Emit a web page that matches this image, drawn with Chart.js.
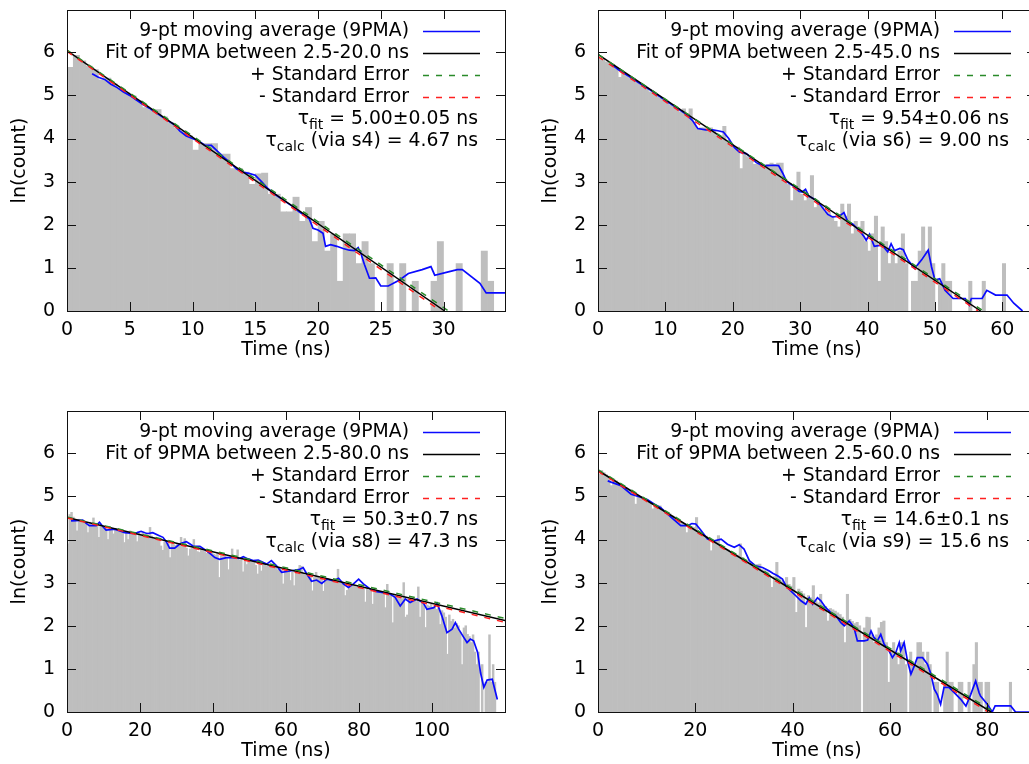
<!DOCTYPE html>
<html>
<head>
<meta charset="utf-8">
<script src="https://cdn.jsdelivr.net/npm/chart.js@4.4.1/dist/chart.umd.min.js"></script>
<style>
  html, body { margin: 0; padding: 0; background: #fff; overflow: hidden; }
  body { width: 1029px; height: 764px; position: relative; }
  canvas { position: absolute; }
  #c1 { left: 0; top: 0; }
  #c2 { left: 531px; top: 0; }
  #c3 { left: 0; top: 401px; }
  #c4 { left: 531px; top: 401px; }
</style>
</head>
<body>
<canvas id="c1" width="515" height="370"></canvas>
<canvas id="c2" width="515" height="370"></canvas>
<canvas id="c3" width="515" height="370"></canvas>
<canvas id="c4" width="515" height="370"></canvas>
<script>
/* ==================== 数据 ==================== */
// 直方图：每个 0.5 ns 的 bin 的 ln(count)，null = 空 bin
const BIN_WIDTH = 0.5;

const p1Counts = [
  5.65, 5.93, 5.80, 5.68, 5.60, 5.36, 5.40, 5.27, 5.17, 5.06,
  4.99, 4.88, 4.72, 4.66, 4.67, 4.50, 4.37, 4.25, 4.17, 4.06,
  3.73, 3.88, 3.88, 3.88, 3.64, 3.64, 3.30, 3.30, 3.22, 2.94,
  3.18, 3.20, 2.71, 2.71, 2.30, 2.30, 2.64, 2.08, 2.40, 1.61,
  2.08, 1.39, 1.79, 0.69, 1.79, 1.79, 1.10, 1.61, 1.10, null,
  null, 1.10, null, 1.10, null, 0.69, null, null, 0.69, 1.61,
  null, null, 1.10, null, null, null, 1.39, 0.69, null, null
];
const p2Counts = [
  5.86, 5.85, 5.78, 5.74, 5.72, 5.62, 5.42, 5.53, 5.48, 5.41,
  5.38, 5.30, 5.26, 5.18, 5.16, 5.08, 5.07, 5.00, 4.94, 4.88,
  4.86, 4.78, 4.75, 4.68, 4.62, 4.69, 4.58, 4.69, 4.38, 4.23,
  4.25, 4.25, 4.20, 4.25, 4.19, 4.08, 4.03, 4.28, 3.92, 3.85,
  3.78, 3.80, 3.30, 3.64, 3.58, 3.49, 3.40, 3.40, 3.36, 3.33,
  3.40, 3.43, 3.40, 3.43, 3.43, 3.00, 2.94, 2.56, 2.89, 3.22,
  2.71, 2.56, 2.64, 3.14, 2.40, 2.48, 2.40, 2.30, 2.30, 2.20,
  2.08, 1.95, 2.48, 2.20, 2.48, 1.79, 2.08, 1.95, 2.08, 1.61,
  1.39, 1.79, 2.20, 0.69, 1.95, 1.61, 1.10, 1.39, 1.10, 1.39,
  1.79, 1.10, null, 0.69, 0.69, 1.39, 1.95, 1.39, 1.95, 1.10,
  null, 0.69, 1.10, 0.69, 0.69, null, null, null, null, null,
  0.69, null, null, null, 0.69, null, null, null, null, null,
  1.10
];
const p3Counts = [
  3.90, 4.58, 4.63, 4.52, 4.45, 4.20, 4.47, 4.43, 4.45, 4.40,
  4.38, 4.16, 4.40, 4.36, 4.50, 4.33, 4.35, 4.05, 4.34, 4.30,
  4.27, 4.30, 4.00, 4.28, 4.25, 4.13, 4.26, 4.22, 4.24, 4.20,
  4.22, 3.93, 4.18, 4.00, 4.20, 4.14, 4.16, 4.12, 3.95, 4.15,
  4.10, 4.17, 4.06, 4.12, 4.05, 4.28, 4.08, 4.02, 4.04, 4.00,
  3.98, 3.85, 3.75, 3.95, 3.90, 3.92, 3.58, 3.90, 3.88, 3.86,
  3.90, 3.85, 4.05, 3.88, 4.02, 3.80, 3.62, 3.78, 3.80, 4.00,
  3.78, 3.72, 3.70, 3.76, 3.74, 3.72, 3.68, 3.70, 3.66, 3.69,
  3.66, 3.64, 3.68, 3.12, 3.62, 3.60, 3.63, 3.58, 3.30, 3.60,
  3.78, 3.56, 3.58, 3.76, 3.52, 3.55, 3.25, 3.53, 3.42, 3.52,
  3.50, 3.47, 3.48, 3.40, 3.20, 3.44, 3.27, 3.42, 3.43, 3.38,
  3.40, 3.36, 3.38, 3.34, 3.36, 3.30, 3.33, 3.30, 2.97, 3.28,
  3.30, 3.26, 3.05, 3.24, 2.93, 3.22, 3.20, 3.40, 3.38, 3.21,
  3.18, 3.16, 3.20, 3.14, 2.81, 3.12, 3.24, 3.15, 3.10, 3.12,
  2.80, 3.10, 3.06, 3.04, 3.07, 3.02, 3.08, 3.08, 3.31, 3.02,
  3.00, 2.98, 2.70, 2.82, 2.97, 2.95, 2.92, 2.94, 2.90, 2.92,
  2.90, 2.88, 2.86, 2.55, 2.87, 2.82, 2.84, 2.50, 2.82, 2.78,
  2.80, 2.76, 2.78, 2.74, 2.42, 2.96, 2.72, 2.70, 2.07, 2.70,
  2.68, 2.65, 2.66, 2.62, 3.00, 2.20, 2.25, 2.62, 2.58, 2.55,
  2.58, 2.56, 2.90, 2.20, 2.52, 2.50, 1.96, 2.48, 2.45, 2.50,
  2.42, 2.45, 2.38, 2.40, 2.03, 2.35, 2.30, 2.20, 1.34, 2.25,
  2.10, 2.15, 1.95, 2.05, 2.00, 1.85, 1.10, 1.95, 2.00, 1.80,
  1.75, 1.61, 1.79, 1.39, 1.10, 1.39, null, 1.10, null, 0.69,
  0.69, 1.79, 0.69, 1.10, 0.69
];
const p4Counts = [
  5.52, 5.60, 5.55, 5.50, 5.45, 5.25, 5.40, 5.36, 5.30, 5.28,
  5.24, 5.20, 5.16, 5.12, 5.10, 4.82, 5.02, 4.99, 4.97, 4.94,
  4.90, 4.86, 4.71, 4.80, 4.76, 4.78, 4.70, 4.66, 4.62, 4.60,
  4.55, 4.52, 4.48, 4.44, 4.40, 4.36, 4.16, 4.32, 4.30, 4.28,
  4.51, 4.18, 4.15, 4.10, 4.08, 4.02, 3.74, 3.98, 3.97, 4.09,
  3.86, 3.82, 3.78, 3.76, 3.72, 3.68, 3.66, 3.64, 3.90, 3.58,
  3.52, 3.48, 3.45, 3.43, 3.40, 3.42, 3.43, 3.30, 3.28, 3.25,
  3.18, 2.89, 3.14, 3.47, 3.10, 3.04, 3.00, 3.12, 2.96, 2.92,
  3.12, 2.31, 2.85, 2.80, 2.74, 1.96, 2.70, 2.65, 2.93, 2.58,
  2.53, 2.73, 2.48, 2.45, 2.11, 2.40, 2.37, 2.34, 2.30, 2.26,
  2.20, 1.61, 2.73, 2.15, 2.10, 2.05, 2.08, 2.00, null, 1.95,
  2.20, 2.19, 1.79, 1.61, 1.79, 1.95, 2.08, 2.11, 1.61, 0.69,
  1.39, 1.61, 1.39, 1.10, 1.61, 1.61, 1.10, null, 1.39, 1.10,
  1.10, 1.61, 1.61, 1.39, 1.10, 1.39, 1.10, null, 0.69, 0.69,
  null, null, 0.69, 1.39, 0.69, 0.69, null, null, 0.69, 0.69,
  null, null, 0.69, null, 1.10, 1.61, 0.69, 0.69, null, 0.69,
  0.69, null, null, null, null, null, null, null, null, 0.69
];

// 9 点滑动平均 [时间 ns, ln(count)]
const p1Avg = [
  [2.0, 5.50], [2.5, 5.42], [3.0, 5.37], [3.5, 5.26], [4.0, 5.18], [4.5, 5.08], [5.0, 5.00],
  [5.5, 4.90], [6.0, 4.80], [6.5, 4.71], [7.0, 4.62], [7.5, 4.52], [8.0, 4.42], [8.5, 4.33],
  [9.0, 4.17], [9.5, 4.06], [10.0, 4.00], [10.5, 3.94], [11.0, 3.84], [11.5, 3.84], [12.0, 3.70],
  [12.5, 3.56], [13.0, 3.44], [13.5, 3.30], [14.0, 3.22], [14.5, 3.19], [15.0, 3.15], [15.5, 3.00],
  [16.0, 2.84], [16.5, 2.72], [17.0, 2.62], [17.5, 2.52], [18.0, 2.42], [18.5, 2.30], [19.0, 2.20],
  [19.3, 2.14], [19.6, 1.92], [20.0, 1.88], [20.4, 1.80], [20.6, 1.50], [21.0, 1.54], [21.5, 1.50],
  [22.0, 1.45], [22.5, 1.41], [22.9, 1.40], [23.2, 1.47], [23.4, 1.35], [23.7, 1.08], [24.1, 0.76],
  [24.6, 0.77], [25.0, 0.58], [25.6, 0.58], [26.5, 0.72], [27.2, 0.87], [28.3, 0.96], [29.0, 1.03],
  [29.3, 0.83], [30.3, 0.90], [31.1, 0.96], [31.5, 0.96], [32.9, 0.64], [33.4, 0.42], [35.0, 0.42]
];
const p2Avg = [
  [2.0, 5.72], [3, 5.60], [4, 5.50], [5, 5.40], [6, 5.30], [7, 5.20], [8, 5.10], [9, 4.99],
  [10, 4.88], [11, 4.78], [12, 4.68], [13, 4.57], [14, 4.42], [14.8, 4.23], [16, 4.20], [17, 4.20],
  [17.8, 4.18], [18.6, 4.15], [19.4, 4.00], [20.2, 3.80], [21, 3.68], [22, 3.65], [22.8, 3.55],
  [23.5, 3.44], [24.3, 3.38], [25, 3.37], [26, 3.38], [26.8, 3.37], [27.4, 3.20], [28, 3.00],
  [29, 2.90], [29.8, 2.78], [30.3, 2.76], [30.8, 2.82], [31.3, 2.66], [32.3, 2.58], [33.1, 2.44],
  [34.1, 2.24], [34.8, 2.18], [35.8, 2.20], [36.5, 2.28], [37.1, 2.06], [37.8, 2.02], [38.8, 1.86],
  [39.5, 1.72], [39.8, 1.64], [40.3, 1.78], [41, 1.50], [41.8, 1.52], [42.0, 1.56], [43, 1.37],
  [43.5, 1.56], [44, 1.40], [44.8, 1.45], [45.3, 1.42], [46, 1.18], [47, 0.99], [48, 1.18],
  [49, 1.41], [49.5, 1.02], [50, 0.72], [50.7, 0.75], [51.5, 0.48], [52.7, 0.29], [54.5, 0.29],
  [55.1, 0.14], [55.4, 0.29], [57, 0.29], [57.7, 0.48], [59, 0.37], [60.7, 0.37], [61.7, 0.18],
  [63, 0]
];
const p3Avg = [
  [1.1, 4.43], [2.5, 4.44], [4.3, 4.45], [5.2, 4.38], [6.1, 4.32], [8, 4.32], [8.9, 4.40],
  [9.8, 4.30], [10.7, 4.22], [13, 4.24], [14.5, 4.20], [15.8, 4.16], [18, 4.14], [19.2, 4.16],
  [20.3, 4.19], [21.5, 4.15], [22.2, 4.14], [23.5, 4.16], [25, 4.10], [26.3, 4.05], [27.2, 3.95],
  [28.1, 3.80], [29.5, 3.80], [30.4, 3.86], [31.3, 3.91], [32.7, 3.95], [33.6, 3.90], [34.5, 3.85],
  [36.4, 3.84], [38.2, 3.74], [39.4, 3.66], [40.5, 3.58], [41.8, 3.54], [43.7, 3.58], [45.5, 3.58],
  [47.3, 3.56], [48.3, 3.60], [49.6, 3.55], [51, 3.51], [52.4, 3.52], [54.7, 3.43], [56, 3.51],
  [57.4, 3.39], [58.8, 3.24], [61.1, 3.27], [63.8, 3.31], [64.7, 3.35], [65.7, 3.20], [67, 3.03],
  [68.4, 3.06], [69.8, 2.98], [71.2, 3.08], [73, 3.04], [74.4, 3.10], [75.7, 2.97], [77.1, 2.89],
  [78.5, 2.97], [79.9, 3.08], [81.2, 2.97], [83.1, 2.85], [84.9, 2.79], [86.7, 2.77], [88.6, 2.73],
  [89.9, 2.66], [91.3, 2.46], [92.7, 2.62], [94, 2.54], [95.9, 2.62], [97.7, 2.52], [98.6, 2.38],
  [100.5, 2.42], [101.4, 2.52], [102.7, 2.23], [104.1, 1.84], [105.5, 1.92], [106.4, 2.07],
  [107.3, 1.92], [108.7, 1.73], [109.6, 1.61], [110.5, 1.69], [111.4, 1.65], [112.5, 1.38],
  [113.3, 0.91], [114.2, 0.57], [115.1, 0.74], [116.5, 0.76], [117.9, 0.29]
];
const p4Avg = [
  [2.0, 5.36], [2.7, 5.33], [4.7, 5.25], [6.8, 5.05], [8.8, 4.98], [10.2, 4.92], [11.6, 4.82],
  [12.9, 4.74], [14.3, 4.59], [15.7, 4.45], [17, 4.32], [18.4, 4.32], [19.3, 4.37], [20.1, 4.36],
  [21.1, 4.22], [22.5, 4.01], [23.9, 3.97], [25.3, 4.01], [26.6, 3.89], [28, 3.82], [29, 3.88],
  [30, 3.78], [31.1, 3.51], [32.4, 3.39], [33.8, 3.35], [35.2, 3.27], [35.9, 3.22], [36.9, 3.16],
  [37.9, 3.08], [38.6, 2.93], [39.6, 2.81], [40.7, 2.69], [41.7, 2.58], [42.7, 2.50], [43.4, 2.65],
  [44.1, 2.50], [45.1, 2.65], [45.8, 2.58], [46.8, 2.42], [47.8, 2.31], [48.9, 2.23], [49.9, 2.07],
  [50.6, 2.00], [51.6, 2.11], [52.6, 1.96], [53.3, 1.65], [54.7, 1.65], [55.4, 1.67], [56.1, 1.88],
  [56.7, 1.73], [57.4, 1.65], [58.1, 1.80], [58.8, 1.57], [59.8, 1.42], [60.5, 1.26], [61.2, 1.38],
  [61.9, 1.61], [62.2, 1.42], [62.9, 1.61], [63.6, 1.18], [64.3, 0.88], [65, 1.07], [65.6, 1.26],
  [66.7, 1.26], [67.7, 1.11], [68.4, 0.88], [69.1, 0.53], [69.7, 0.41], [70.4, 0.18], [71.1, 0.57],
  [72.1, 0.57], [73.2, 0.45], [74.5, 0.30], [75.6, 0.14], [76.6, 0.41], [77.6, 0.72], [78.3, 0.45],
  [78.6, 0.37], [80, 0.18], [81, 0], [81.6, 0.14], [84.8, 0.14], [85.8, 0], [90, 0]
];

// 拟合直线及其 ± 标准误差（两端点）
const p1Fit = [[0, 6.04], [30.1, 0]],  p1Plus = [[0, 6.05], [30.4, 0]],  p1Minus = [[0, 6.02], [29.8, 0]];
const p2Fit = [[0, 5.95], [56.8, 0]],  p2Plus = [[0, 5.95], [57.2, 0]],  p2Minus = [[0, 5.90], [56.4, 0]];
const p3Fit = [[0, 4.51], [120, 2.12]], p3Plus = [[0, 4.52], [120, 2.17]], p3Minus = [[0, 4.50], [120, 2.08]];
const p4Fit = [[0, 5.60], [80.8, 0]],  p4Plus = [[0, 5.62], [81.4, 0]],  p4Minus = [[0, 5.58], [80.2, 0]];

// 刻度
const p1XTicks = [0, 5, 10, 15, 20, 25, 30];
const p2XTicks = [0, 10, 20, 30, 40, 50, 60];
const p3XTicks = [0, 20, 40, 60, 80, 100];
const p4XTicks = [0, 20, 40, 60, 80];
const yTicks = [0, 1, 2, 3, 4, 5, 6];
const xMaxes = [34.9, 65, 120, 90];

// 文本
const fitRanges = ['2.5-20.0', '2.5-45.0', '2.5-80.0', '2.5-60.0'];
const tauFit = ['5.00±0.05', '9.54±0.06', '50.3±0.7', '14.6±0.1'];
const tauVia = ['s4', 's6', 's8', 's9'];
const tauCalc = ['4.67', '9.00', '47.3', '15.6'];

/* ==================== 样式 ==================== */
const FAMILY = "'DejaVu Sans', sans-serif";
const KEY_FONT = '18.8px ' + FAMILY;
const SUB_FONT = '14px ' + FAMILY;
const TICK_LEN = 9;

Chart.defaults.font.family = FAMILY;
Chart.defaults.font.size = 19;
Chart.defaults.color = '#000';

const toXY = arr => arr.map(p => ({ x: p[0], y: p[1] }));

/* 边框 + 向内的刻度线（四边） */
const framePlugin = {
  id: 'frame',
  afterDatasetsDraw(chart) {
    const { ctx, chartArea: a, scales: { x, y } } = chart;
    ctx.save();
    ctx.strokeStyle = '#111';
    ctx.lineWidth = 1;
    ctx.beginPath();
    x.ticks.forEach(t => {
      const px = Math.round(x.getPixelForValue(t.value)) + 0.5;
      ctx.moveTo(px, a.bottom); ctx.lineTo(px, a.bottom - TICK_LEN);
      ctx.moveTo(px, a.top); ctx.lineTo(px, a.top + TICK_LEN);
    });
    y.ticks.forEach(t => {
      const py = Math.round(y.getPixelForValue(t.value)) + 0.5;
      ctx.moveTo(a.left, py); ctx.lineTo(a.left + TICK_LEN, py);
      ctx.moveTo(a.right, py); ctx.lineTo(a.right - TICK_LEN, py);
    });
    ctx.stroke();
    ctx.strokeRect(Math.round(a.left) + 0.5, Math.round(a.top) + 0.5,
                   Math.round(a.right - a.left), Math.round(a.bottom - a.top));
    ctx.restore();
  }
};

/* gnuplot 风格图例：文字右对齐，样线在右 */
const keyPlugin = {
  id: 'key',
  afterDraw(chart) {
    const { ctx, chartArea: a } = chart;
    const k = chart.options.plugins.key;
    ctx.save();
    ctx.fillStyle = '#000';
    ctx.textBaseline = 'middle';
    const lines = chart.data.datasets.filter(d => d.type === 'line');
    lines.forEach((d, i) => {
      const y = a.top + 21 + i * 22;
      ctx.font = KEY_FONT;
      ctx.textAlign = 'right';
      ctx.fillText(d.label, a.right - 96, y);
      ctx.beginPath();
      ctx.strokeStyle = d.borderColor;
      ctx.lineWidth = d.borderWidth;
      ctx.setLineDash(d.borderDash || []);
      ctx.moveTo(a.right - 82, y + 0.5);
      ctx.lineTo(a.right - 25, y + 0.5);
      ctx.stroke();
    });
    ctx.setLineDash([]);
    ctx.textAlign = 'left';
    [['fit', k.fitText], ['calc', k.calcText]].forEach(([sub, rest], j) => {
      const y = a.top + 21 + (4 + j) * 22;
      ctx.font = KEY_FONT;
      const w1 = ctx.measureText('τ').width;
      const w3 = ctx.measureText(rest).width;
      ctx.font = SUB_FONT;
      const w2 = ctx.measureText(sub).width;
      const x0 = a.right - 27 - (w1 + w2 + w3);
      ctx.font = KEY_FONT;
      ctx.fillText('τ', x0, y);
      ctx.font = SUB_FONT;
      ctx.fillText(sub, x0 + w1, y + 6);
      ctx.font = KEY_FONT;
      ctx.fillText(rest, x0 + w1 + w2, y);
    });
    ctx.restore();
  }
};

function makePanel(id, i, counts, avg, fit, plus, minus, xTicks) {
  const bars = counts.map((v, n) => ({ x: BIN_WIDTH * n + BIN_WIDTH / 2, y: v }));
  new Chart(document.getElementById(id), {
    type: 'bar',
    data: {
      datasets: [
        { type: 'line', label: '9-pt moving average (9PMA)', data: toXY(avg),
          borderColor: '#0a0aff', borderWidth: 1.7, pointRadius: 0, order: 5 },
        { type: 'line', label: 'Fit of 9PMA between ' + fitRanges[i] + ' ns', data: toXY(fit),
          borderColor: '#000000', borderWidth: 1.5, pointRadius: 0, order: 4 },
        { type: 'line', label: '+ Standard Error', data: toXY(plus),
          borderColor: '#2a8a2a', borderWidth: 1.5, borderDash: [6, 7], pointRadius: 0, order: 2 },
        { type: 'line', label: '- Standard Error', data: toXY(minus),
          borderColor: '#ff2020', borderWidth: 1.5, borderDash: [6, 7], pointRadius: 0, order: 1 },
        { type: 'bar', label: 'counts', data: bars, backgroundColor: '#bebebe',
          borderWidth: 0, barPercentage: 1, categoryPercentage: 1, order: 9 }
      ]
    },
    options: {
      responsive: false,
      animation: false,
      events: [],
      layout: { padding: { top: 10, right: 10, left: 0, bottom: 0 } },
      plugins: {
        legend: { display: false },
        tooltip: { enabled: false },
        key: { fitText: ' = ' + tauFit[i] + ' ns', calcText: ' (via ' + tauVia[i] + ') = ' + tauCalc[i] + ' ns' }
      },
      scales: {
        x: {
          type: 'linear', min: 0, max: xMaxes[i], offset: false,
          grid: { display: false, drawTicks: false }, border: { display: false },
          ticks: { padding: 8, maxRotation: 0, autoSkip: false },
          afterBuildTicks: s => { s.ticks = xTicks.map(v => ({ value: v })); },
          title: { display: true, text: 'Time (ns)', padding: { top: 0, bottom: 9 } },
          afterFit: s => { s.height = 59; s.paddingLeft = 0; s.paddingRight = 0; }
        },
        y: {
          min: 0, max: 6.98,
          grid: { display: false, drawTicks: false }, border: { display: false },
          ticks: { padding: 12, autoSkip: false },
          afterBuildTicks: s => { s.ticks = yTicks.map(v => ({ value: v })); },
          title: { display: true, text: 'ln(count)', padding: { top: 9, bottom: 0 } },
          afterFit: s => { s.width = 67; s.paddingTop = 0; s.paddingBottom = 0; }
        }
      }
    },
    plugins: [framePlugin, keyPlugin]
  });
}

makePanel('c1', 0, p1Counts, p1Avg, p1Fit, p1Plus, p1Minus, p1XTicks);
makePanel('c2', 1, p2Counts, p2Avg, p2Fit, p2Plus, p2Minus, p2XTicks);
makePanel('c3', 2, p3Counts, p3Avg, p3Fit, p3Plus, p3Minus, p3XTicks);
makePanel('c4', 3, p4Counts, p4Avg, p4Fit, p4Plus, p4Minus, p4XTicks);
</script>
</body>
</html>
